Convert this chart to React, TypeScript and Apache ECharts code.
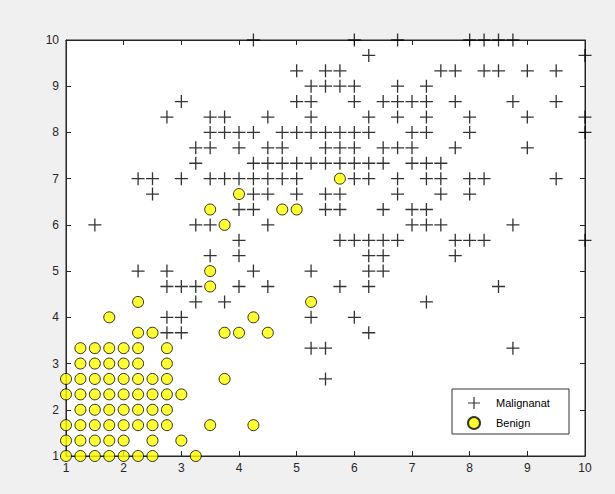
import React, { useEffect, useRef } from "react";
import * as echarts from "echarts";

// Malignant points, grouped by row: [y, x values]
const malignantRows: [number, number[]][] = [
  [10, [4.25, 6.0, 6.75, 8.0, 8.25, 8.5, 8.75]],
  [9.667, [6.25, 10]],
  [9.333, [5.0, 5.5, 5.75, 7.5, 7.75, 8.25, 8.5, 9.0, 9.5]],
  [9, [5.25, 5.5, 5.75, 6.0, 6.75, 7.25]],
  [8.667, [3.0, 5.0, 5.25, 6.0, 6.5, 6.75, 7.0, 7.25, 7.75, 8.75, 9.5]],
  [8.333, [2.75, 3.5, 3.75, 4.5, 5.25, 6.25, 6.75, 7.25, 8.0, 9.0, 10]],
  [8, [3.5, 3.75, 4.0, 4.25, 4.75, 5.0, 5.25, 5.5, 5.75, 6.0, 6.25, 7.0, 7.25, 8.0, 10]],
  [7.667, [3.25, 3.5, 4.0, 4.5, 4.75, 5.5, 5.75, 6.0, 6.5, 6.75, 7.0, 7.75, 9.0]],
  [7.333, [3.25, 4.25, 4.5, 4.75, 5.0, 5.25, 5.5, 5.75, 6.0, 6.25, 6.5, 7.0, 7.25, 7.5]],
  [7, [2.25, 2.5, 3.0, 3.5, 3.75, 4.0, 4.25, 4.5, 4.75, 5.0, 6.0, 6.25, 6.75, 7.25, 7.5, 8.0, 8.25, 9.5]],
  [6.667, [2.5, 4.25, 4.5, 5.0, 5.5, 5.75, 6.75, 7.5, 8.0]],
  [6.333, [4.0, 4.25, 5.5, 5.75, 6.5, 7.0, 7.25]],
  [6, [1.5, 3.25, 3.5, 4.5, 7.0, 7.25, 7.5, 8.75]],
  [5.667, [4.0, 5.75, 6.0, 6.25, 6.5, 6.75, 7.75, 8.0, 8.25, 10]],
  [5.333, [3.5, 4.0, 6.25, 6.5, 7.75]],
  [5, [2.25, 2.75, 4.25, 5.25, 6.25, 6.5]],
  [4.667, [2.75, 3.0, 3.25, 4.0, 4.5, 5.75, 6.25, 8.5]],
  [4.333, [3.25, 3.75, 7.25]],
  [4, [2.75, 3.0, 5.25, 6.0]],
  [3.667, [2.75, 3.0, 6.25]],
  [3.333, [5.25, 5.5, 8.75]],
  [2.667, [5.5]],
];

// Benign points, grouped by row: [y, x values]
const benignRows: [number, number[]][] = [
  [1, [1, 1.25, 1.5, 1.75, 2, 2.25, 2.5, 3.25]],
  [1.333, [1, 1.25, 1.5, 1.75, 2, 2.5, 3]],
  [1.667, [1, 1.25, 1.5, 1.75, 2, 2.25, 2.5, 2.75, 3.5, 4.25]],
  [2, [1.25, 1.5, 1.75, 2, 2.25, 2.5, 2.75]],
  [2.333, [1, 1.25, 1.5, 1.75, 2, 2.25, 2.5, 2.75, 3]],
  [2.667, [1, 1.25, 1.5, 1.75, 2, 2.25, 2.5, 2.75, 3.75]],
  [3, [1.25, 1.5, 1.75, 2, 2.25, 2.75]],
  [3.333, [1.25, 1.5, 1.75, 2, 2.25, 2.75]],
  [3.667, [2.25, 2.5, 3.75, 4, 4.5]],
  [4, [1.75, 4.25]],
  [4.333, [2.25, 5.25]],
  [4.667, [3.5]],
  [5, [3.5]],
  [6, [3.75]],
  [6.333, [3.5, 4.75, 5]],
  [6.667, [4]],
  [7, [5.75]],
];

const axisTicks = [1, 2, 3, 4, 5, 6, 7, 8, 9, 10];
const seriesNames = ["Malignanat", "Benign"];

const toPoints = (rows: [number, number[]][]) =>
  rows.flatMap(([y, xs]) => xs.map((x) => [x, y]));

const PLUS = "path://M45,0H55V45H100V55H55V100H45V55H0V45H45Z";

export default function App() {
  const ref = useRef<HTMLDivElement>(null);
  useEffect(() => {
    if (!ref.current) return;
    const chart = echarts.init(ref.current, undefined, { renderer: "svg" });
    const axisColor = "#262626";
    const font = "'Liberation Sans', Arial, sans-serif";
    const common = {
      type: "value" as const,
      min: axisTicks[0],
      max: axisTicks[axisTicks.length - 1],
      interval: 1,
      axisLine: { show: true, onZero: false, lineStyle: { color: axisColor, width: 1 } },
      axisTick: { show: true, inside: true, length: 5, lineStyle: { color: axisColor } },
      splitLine: { show: false },
    };
    chart.setOption({
      animation: false,
      backgroundColor: "#f0f0f0",
      grid: {
        left: 66,
        top: 40,
        right: 30,
        bottom: 38,
        show: true,
        backgroundColor: "#ffffff",
        borderColor: axisColor,
        borderWidth: 1,
      },
      xAxis: [
        {
          ...common,
          position: "bottom",
          axisLabel: { color: axisColor, fontSize: 12, fontFamily: font, margin: 6 },
        },
        { ...common, position: "top", axisLabel: { show: false } },
      ],
      yAxis: [
        {
          ...common,
          position: "left",
          axisLabel: { color: axisColor, fontSize: 12, fontFamily: font, margin: 7 },
        },
        { ...common, position: "right", axisLabel: { show: false } },
      ],
      graphic: [
        {
          type: "rect",
          z: 10,
          shape: { x: 452, y: 389, width: 117, height: 45 },
          style: { fill: "#ffffff", stroke: "#333333", lineWidth: 1 },
        },
      ],
      legend: {
        orient: "vertical",
        left: 467,
        top: 397,
        padding: 0,
        z: 11,
        itemWidth: 12,
        itemHeight: 12,
        itemGap: 7,
        textStyle: { fontSize: 11, color: "#000000", fontFamily: font, padding: [0, 0, 0, 11] },
        data: [
          { name: seriesNames[0], icon: PLUS },
          { name: seriesNames[1], icon: "circle" },
        ],
      },
      series: [
        {
          name: seriesNames[0],
          type: "scatter",
          symbol: PLUS,
          symbolSize: 13,
          itemStyle: { color: "#000000" },
          data: toPoints(malignantRows),
        },
        {
          name: seriesNames[1],
          type: "scatter",
          symbol: "circle",
          symbolSize: 11,
          itemStyle: { color: "#ffff00", borderColor: "#000000", borderWidth: 1 },
          data: toPoints(benignRows),
        },
      ],
    });
    return () => chart.dispose();
  }, []);
  return (
    <div
      ref={ref}
      style={{ position: "fixed", left: 0, top: 0, width: 615, height: 494 }}
    />
  );
}
